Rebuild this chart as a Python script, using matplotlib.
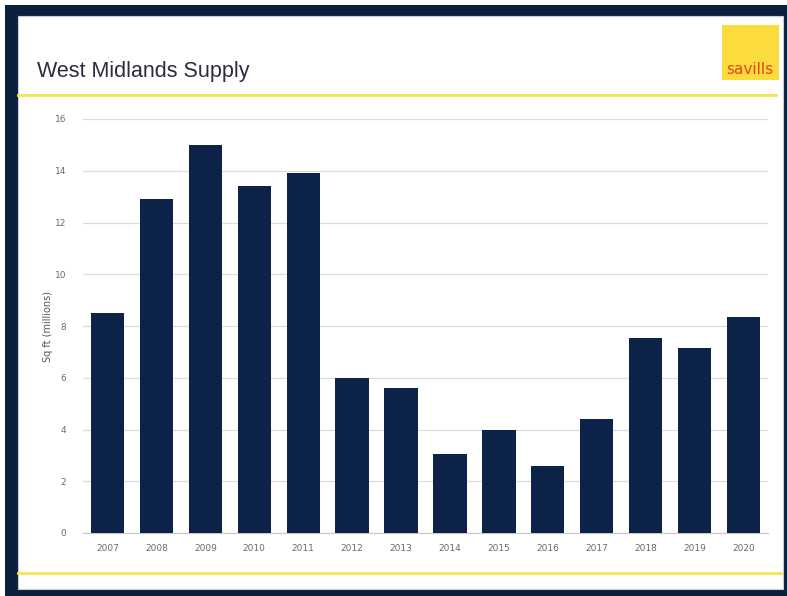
import matplotlib
matplotlib.use("Agg")
import matplotlib.pyplot as plt
from matplotlib.patches import Rectangle
from matplotlib.lines import Line2D

years = ["2007", "2008", "2009", "2010", "2011", "2012", "2013",
         "2014", "2015", "2016", "2017", "2018", "2019", "2020"]
supply = [8.5, 12.9, 15.0, 13.4, 13.9, 6.0, 5.6,
          3.05, 4.0, 2.6, 4.4, 7.55, 7.15, 8.35]
yticks = [0, 2, 4, 6, 8, 10, 12, 14, 16]

W, H = 787, 596
fig = plt.figure(figsize=(W / 100, H / 100), dpi=100)
fig.patch.set_facecolor("white")

def fx(px):
    return px / W

def fy(py):
    return 1 - py / H

navy = "#0b1f40"
# outer frame
fig.patches.append(Rectangle((fx(5), 0), 1 - fx(5), fy(5), transform=fig.transFigure,
                             facecolor=navy, edgecolor="none", zorder=-3))
fig.patches.append(Rectangle((fx(18), fy(589)), fx(783) - fx(18), fy(16) - fy(589),
                             transform=fig.transFigure, facecolor="white",
                             edgecolor="#c8ccd4", linewidth=0.8, zorder=-2))
# yellow rules
fig.add_artist(Line2D([fx(18), fx(776)], [fy(95), fy(95)], transform=fig.transFigure,
                      color="#f3e650", linewidth=2.0, zorder=-1))
fig.add_artist(Line2D([fx(18), fx(781)], [fy(573), fy(573)], transform=fig.transFigure,
                      color="#f3e650", linewidth=2.0, zorder=-1))
# logo
fig.patches.append(Rectangle((fx(722), fy(80)), fx(779) - fx(722), fy(25) - fy(80),
                             transform=fig.transFigure, facecolor="#fbdc3c",
                             edgecolor="none", zorder=-1))
fig.text(fx(750), fy(69), "savills", ha="center", va="center", fontsize=11,
         color="#e0461e", family="Liberation Sans Narrow", zorder=2)
# title
fig.text(fx(37), fy(72), "West Midlands Supply", ha="left", va="center",
         fontsize=15.5, color="#2a2d3e", family="Liberation Sans")

ax = fig.add_axes([fx(83), fy(533), fx(768) - fx(83), fy(119) - fy(533)])
ax.set_zorder(2)
ax.set_facecolor("none")
x = list(range(len(years)))
ax.bar(x, supply, width=0.68, color="#0c2248", zorder=3)
ax.set_xlim(-0.5, len(years) - 0.5)
ax.set_ylim(0, 16)
ax.set_yticks(yticks)
ax.set_yticklabels([str(v) for v in yticks])
ax.set_xticks(x)
ax.set_xticklabels(years)
ax.tick_params(axis="both", length=0, labelsize=6.5, colors="#6a6a6a", pad=8)
ax.tick_params(axis="y", pad=12)
ax.grid(axis="y", color="#dcdcdc", linewidth=0.9, zorder=0)
for s in ["top", "right", "left"]:
    ax.spines[s].set_visible(False)
ax.spines["bottom"].set_color("#c8c8c8")
ax.set_ylabel("Sq ft (millions)", fontsize=7, color="#555555", labelpad=1)

fig.savefig("out.png", dpi=100)
